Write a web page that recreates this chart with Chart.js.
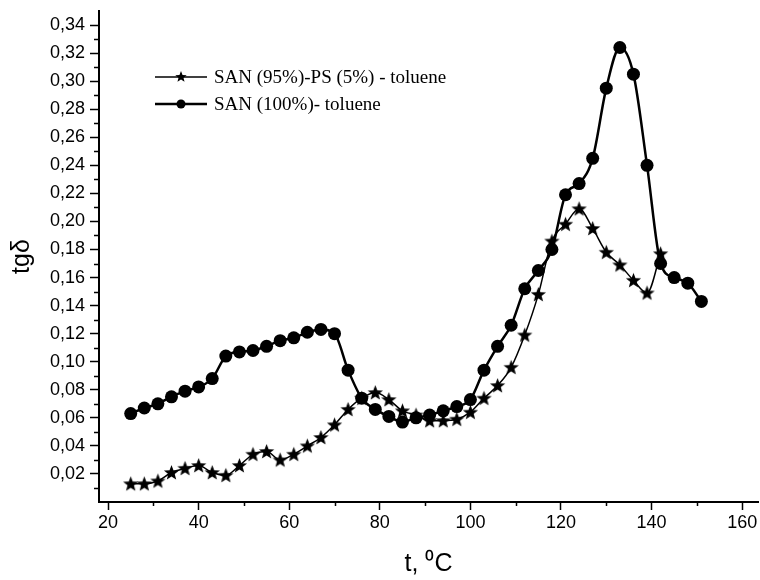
<!DOCTYPE html>
<html>
<head>
<meta charset="utf-8">
<script src="https://cdn.jsdelivr.net/npm/chart.js@4/dist/chart.umd.min.js"></script>
<style>
  html, body { margin: 0; padding: 0; background: #fff; }
  #wrap { width: 760px; height: 580px; }
</style>
</head>
<body>
<div id="wrap"><canvas id="c" width="760" height="580"></canvas></div>
<script>
// SAN (95%)-PS (5%) - toluene  (stars)
const tempBlend = [25, 28, 31, 34, 37, 40, 43, 46, 49, 52, 55, 58, 61, 64, 67, 70, 73, 76, 79, 82,
                   85, 88, 91, 94, 97, 100, 103, 106, 109, 112, 115, 118, 121, 124, 127, 130, 133, 136, 139, 142];
const tgBlend = [0.013, 0.013, 0.015, 0.021, 0.024, 0.026, 0.021, 0.019, 0.026, 0.034, 0.036, 0.030, 0.034, 0.040,
                 0.046, 0.055, 0.066, 0.074, 0.078, 0.073, 0.065, 0.062, 0.058, 0.058, 0.059, 0.064, 0.074, 0.083,
                 0.096, 0.119, 0.148, 0.186, 0.198, 0.209, 0.195, 0.178, 0.169, 0.158, 0.149, 0.177];

// SAN (100%)- toluene  (circles)
const tempSan = [25, 28, 31, 34, 37, 40, 43, 46, 49, 52, 55, 58, 61, 64, 67, 70, 73, 76, 79, 82, 85,
                 88, 91, 94, 97, 100, 103, 106, 109, 112, 115, 118, 121, 124, 127, 130, 133, 136, 139, 142, 145, 148, 151];
const tgSan = [0.063, 0.067, 0.070, 0.075, 0.079, 0.082, 0.088, 0.104, 0.107, 0.108, 0.111, 0.115, 0.117, 0.121,
               0.123, 0.120, 0.094, 0.074, 0.066, 0.061, 0.057, 0.060, 0.062, 0.065, 0.068, 0.073, 0.094, 0.111,
               0.126, 0.152, 0.165, 0.180, 0.219, 0.227, 0.245, 0.295, 0.324, 0.305, 0.240, 0.170, 0.160, 0.156, 0.143];

const seriesNames = ['SAN (95%)-PS (5%) - toluene', 'SAN (100%)- toluene'];
const xTicks = [20, 40, 60, 80, 100, 120, 140, 160];
const yTicks = [0.02, 0.04, 0.06, 0.08, 0.10, 0.12, 0.14, 0.16, 0.18, 0.20, 0.22, 0.24, 0.26, 0.28, 0.30, 0.32, 0.34];

function starPath(ctx, cx, cy, R, r) {
  ctx.beginPath();
  for (let i = 0; i < 10; i++) {
    const rad = i % 2 === 0 ? R : r;
    const a = -Math.PI / 2 + i * Math.PI / 5;
    const px = cx + rad * Math.cos(a), py = cy + rad * Math.sin(a);
    if (i === 0) ctx.moveTo(px, py); else ctx.lineTo(px, py);
  }
  ctx.closePath();
}

const starImg = document.createElement('canvas');
starImg.width = 17; starImg.height = 17;
{
  const g = starImg.getContext('2d');
  g.fillStyle = '#000';
  starPath(g, 8.5, 9, 8, 3.4);
  g.fill();
}

const toPts = (xs, ys) => xs.map((x, i) => ({ x: x, y: ys[i] }));

// minor ticks + legend drawn inside the plot
const extras = {
  id: 'extras',
  afterDraw(chart) {
    const ctx = chart.ctx;
    const xs = chart.scales.x, ys = chart.scales.y;
    ctx.save();
    ctx.strokeStyle = '#000';
    ctx.lineWidth = 1.5;
    ctx.beginPath();
    for (let i = 1; i < 35; i += 2) {
      const py = Math.round(ys.getPixelForValue(i / 100)) + 0.5;
      ctx.moveTo(ys.right - 5, py); ctx.lineTo(ys.right, py);
    }
    for (let v = 30; v < 160; v += 20) {
      const px = Math.round(xs.getPixelForValue(v)) + 0.5;
      ctx.moveTo(px, xs.top); ctx.lineTo(px, xs.top + 4);
    }
    ctx.stroke();

    // legend
    const rows = [
      { y: 77, lw: 1.5, mark: 'star' },
      { y: 104, lw: 2.5, mark: 'circle' }
    ];
    ctx.font = '19px "Liberation Serif", "Times New Roman", serif';
    ctx.textBaseline = 'middle';
    ctx.fillStyle = '#000';
    rows.forEach((r, i) => {
      ctx.lineWidth = r.lw;
      ctx.beginPath();
      ctx.moveTo(155, r.y); ctx.lineTo(207, r.y);
      ctx.stroke();
      if (r.mark === 'star') {
        starPath(ctx, 181, r.y, 6, 2.6); ctx.fill();
      } else {
        ctx.beginPath(); ctx.arc(181, r.y, 4.5, 0, Math.PI * 2); ctx.fill();
      }
      ctx.fillText(seriesNames[i], 214, r.y + 1);
    });
    ctx.restore();
  }
};

function fixBox(w, h) {
  return function (scale) {
    if (w !== null) scale.width = w;
    if (h !== null) scale.height = h;
    scale.paddingTop = 0; scale.paddingBottom = 0;
    scale.paddingLeft = 0; scale.paddingRight = 0;
  };
}

const tickFont = { family: '"Liberation Sans", Arial, sans-serif', size: 18 };
const titleFont = { family: '"Liberation Sans", Arial, sans-serif', size: 25 };

new Chart(document.getElementById('c'), {
  type: 'line',
  data: {
    datasets: [
      {
        label: seriesNames[0],
        data: toPts(tempBlend, tgBlend),
        borderColor: '#000',
        backgroundColor: '#000',
        borderWidth: 1.5,
        pointStyle: starImg,
        pointRadius: 7,
        cubicInterpolationMode: 'monotone',
        fill: false
      },
      {
        label: seriesNames[1],
        data: toPts(tempSan, tgSan),
        borderColor: '#000',
        backgroundColor: '#000',
        borderWidth: 2.5,
        pointStyle: 'circle',
        pointRadius: 6.5,
        pointBorderWidth: 0,
        cubicInterpolationMode: 'monotone',
        fill: false
      }
    ]
  },
  options: {
    responsive: false,
    animation: false,
    events: [],
    layout: { autoPadding: false, padding: { top: 11, right: 2, left: 0, bottom: 0 } },
    plugins: { legend: { display: false }, tooltip: { enabled: false } },
    scales: {
      x: {
        type: 'linear',
        min: 18,
        max: 163.5,
        afterBuildTicks: s => { s.ticks = xTicks.map(v => ({ value: v })); },
        afterFit: fixBox(null, 78),
        border: { display: true, color: '#000', width: 2 },
        grid: { drawOnChartArea: false, drawTicks: true, tickLength: 8, tickColor: '#000', tickWidth: 1.5 },
        ticks: { color: '#000', font: tickFont, padding: 2, maxRotation: 0 },
        title: { display: true, text: 't, \u2070C', color: '#000', font: titleFont, padding: { top: 0, bottom: 1 } }
      },
      y: {
        type: 'linear',
        min: 0,
        max: 0.35,
        afterBuildTicks: s => { s.ticks = yTicks.map(v => ({ value: v })); },
        afterFit: fixBox(99, null),
        border: { display: true, color: '#000', width: 2 },
        grid: { drawOnChartArea: false, drawTicks: true, tickLength: 9, tickColor: '#000', tickWidth: 1.5 },
        ticks: {
          color: '#000', font: tickFont, padding: 5,
          callback: v => v.toFixed(2).replace('.', ',')
        },
        title: { display: true, text: 'tg\u03b4', color: '#000', font: titleFont, padding: { top: 7, bottom: 0 } }
      }
    }
  },
  plugins: [extras]
});
</script>
</body>
</html>
